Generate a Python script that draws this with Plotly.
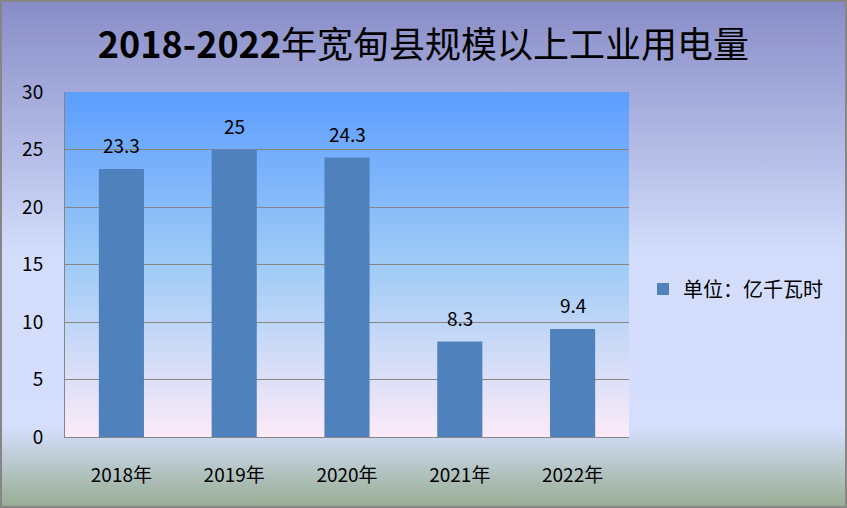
import base64
import plotly.graph_objects as go

categories = ["2018年", "2019年", "2020年", "2021年", "2022年"]
values = [23.3, 25, 24.3, 8.3, 9.4]
series_name = "单位：亿千瓦时"
title_text = "<b>2018-2022</b>年宽甸县规模以上工业用电量"
y_ticks = [0, 5, 10, 15, 20, 25, 30]

W, H = 847, 508
ML, MR, MT, MB = 65, 218, 92, 71
PW, PH = W - ML - MR, H - MT - MB

paper_svg = f'''<svg xmlns="http://www.w3.org/2000/svg" width="{W}" height="{H}" viewBox="0 0 {W} {H}" preserveAspectRatio="none">
<defs><linearGradient id="g" x1="0" y1="0" x2="0" y2="1">
<stop offset="0" stop-color="#888CC7"/>
<stop offset="0.5" stop-color="#D3DDFB"/>
<stop offset="0.84" stop-color="#D5DFFD"/>
<stop offset="1" stop-color="#97AC92"/>
</linearGradient></defs>
<rect x="0" y="0" width="{W}" height="{H}" fill="url(#g)"/>
<rect x="1" y="1" width="{W-2}" height="{H-2}" fill="none" stroke="#868686" stroke-width="2"/>
</svg>'''

plot_svg = '''<svg xmlns="http://www.w3.org/2000/svg" width="564" height="345" viewBox="0 0 564 345" preserveAspectRatio="none">
<defs><linearGradient id="p" x1="0" y1="0" x2="0" y2="1">
<stop offset="0" stop-color="#5C9DFF"/>
<stop offset="0.5" stop-color="#9FCBF6"/>
<stop offset="1" stop-color="#FCEAF8"/>
</linearGradient></defs>
<rect x="0" y="0" width="564" height="345" fill="url(#p)"/>
</svg>'''


def uri(svg):
    return "data:image/svg+xml;base64," + base64.b64encode(svg.encode()).decode()


font_main = "Liberation Sans Narrow, Noto Sans CJK SC, sans-serif"

fig = go.Figure()
fig.add_trace(go.Bar(
    x=categories, y=values, name=series_name,
    marker=dict(color="#4F81BD", line=dict(width=0)),
    showlegend=True,
))

for c, v in zip(categories, values):
    fig.add_annotation(x=c, y=v, text=f"{v:g}", showarrow=False,
                       xanchor="center", yanchor="bottom", yshift=9,
                       font=dict(size=19, color="#000000", family=font_main))

fig.update_layout(
    width=W, height=H,
    margin=dict(l=ML, r=MR, t=MT, b=MB),
    paper_bgcolor="#D5DFFD",
    plot_bgcolor="rgba(0,0,0,0)",
    bargap=0.6,
    font=dict(family=font_main, size=19, color="#000000"),
    title=dict(text=title_text, x=0.5, xref="container", xanchor="center",
               y=1 - 45 / H, yref="container", yanchor="middle",
               font=dict(size=36, color="#000000", family=font_main)),
    showlegend=True,
    legend=dict(x=643 / W, xref="container", xanchor="left",
                y=1 - 289 / H, yref="container", yanchor="middle",
                bgcolor="rgba(0,0,0,0)", font=dict(size=20, family="Noto Sans CJK SC, sans-serif")),
    xaxis=dict(showline=True, linecolor="#868686", linewidth=1, showgrid=False,
               ticks="", ticklabelstandoff=21,
               tickfont=dict(size=19, family=font_main)),
    yaxis=dict(range=[0, 30], tickvals=y_ticks, showline=True, linecolor="#868686",
               linewidth=1, showgrid=True, gridcolor="#868686", gridwidth=1,
               ticks="", ticklabelstandoff=17, zeroline=False,
               tickfont=dict(size=19, family=font_main)),
    images=[
        dict(source=uri(paper_svg), xref="paper", yref="paper",
             x=-ML / PW, y=1 + MT / PH, sizex=W / PW, sizey=H / PH,
             xanchor="left", yanchor="top", sizing="stretch", layer="below"),
        dict(source=uri(plot_svg), xref="paper", yref="paper",
             x=0, y=1, sizex=1, sizey=1,
             xanchor="left", yanchor="top", sizing="stretch", layer="below"),
    ],
)

fig.write_html("out.html", config={"displayModeBar": False},
               post_script="document.body.style.margin='0';document.body.style.overflow='hidden';")
